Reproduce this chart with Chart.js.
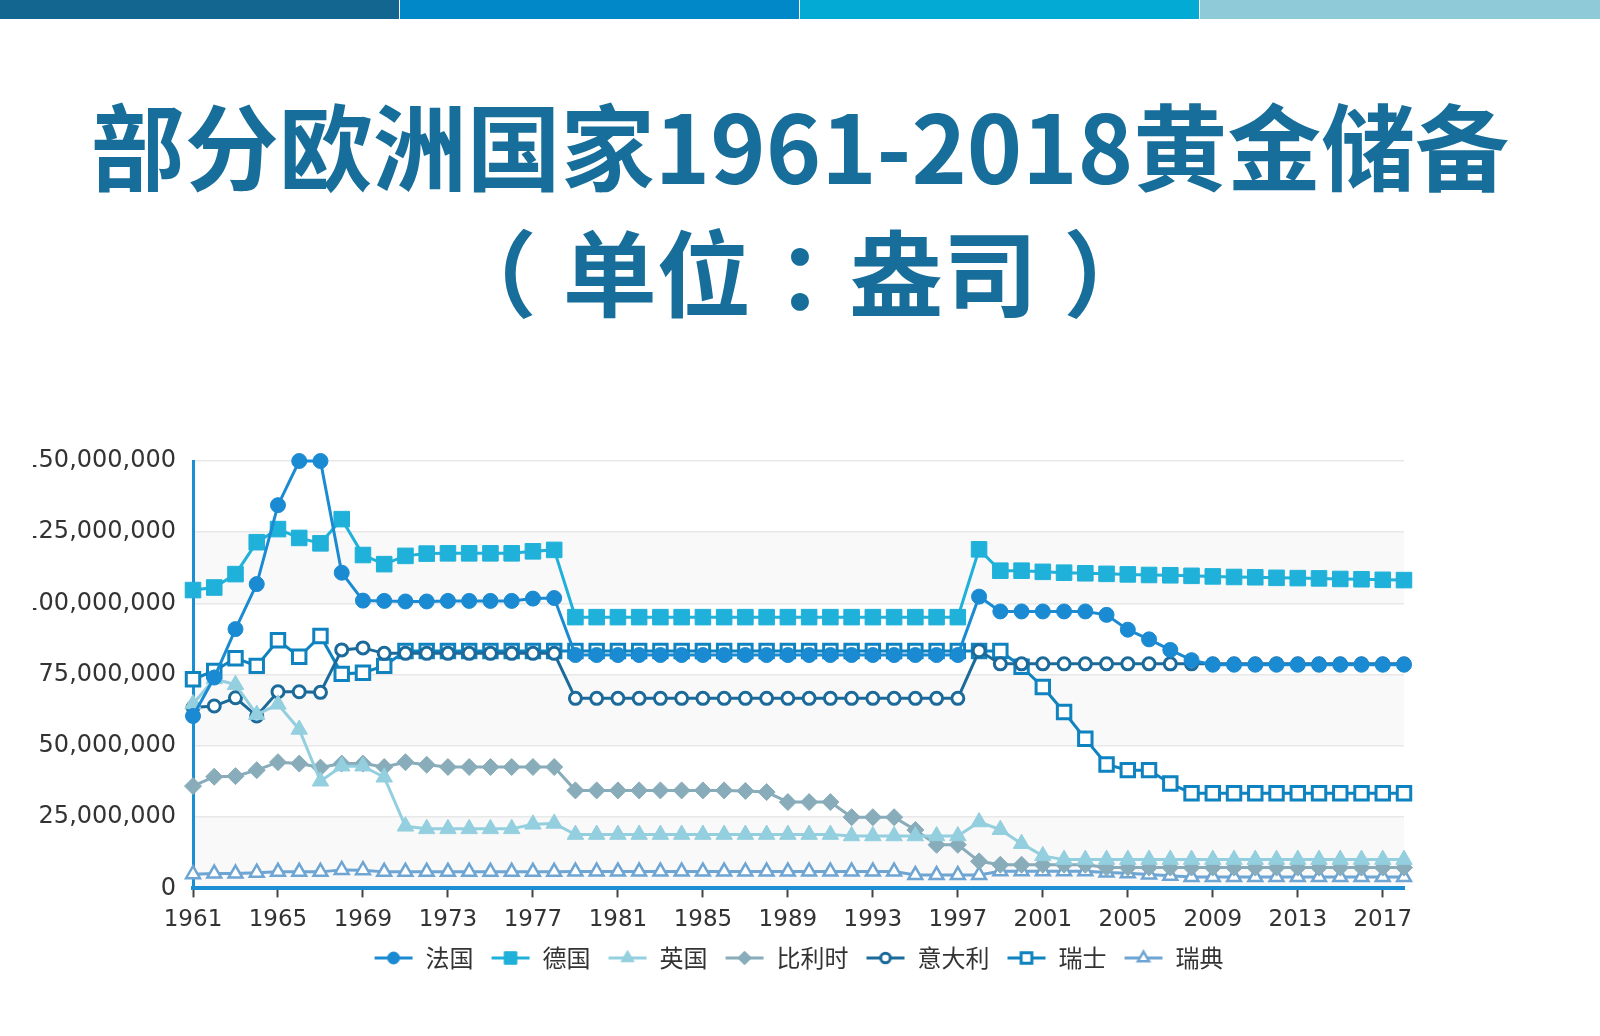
<!DOCTYPE html>
<html lang="zh-CN">
<head>
<meta charset="utf-8">
<title>部分欧洲国家1961-2018黄金储备</title>
<script src="https://cdn.jsdelivr.net/npm/chart.js@4.4.1/dist/chart.umd.min.js"></script>
<style>
  html, body { margin: 0; padding: 0; background: #fff; }
  body { position: relative; width: 1600px; height: 1036px; overflow: hidden; }
  .bar { position: absolute; top: 0; height: 19px; width: 399px; }
  #title { position: absolute; left: 0; top: 80px; width: 1600px; text-align: center;
           font-family: "Noto Sans CJK SC"; font-weight: bold; font-size: 94px;
           line-height: 126px; color: #186e9a; }
  #title .p { display: inline-block; width: 1.05em; text-align: center; font-feature-settings: "halt"; }
  #wrap { position: absolute; left: 33px; top: 0; width: 1567px; height: 1036px; overflow: hidden; }
  #box { position: absolute; left: -33px; top: 0; width: 1600px; height: 1036px; }
</style>
</head>
<body>
<div class="bar" style="left:0;background:#13668f"></div>
<div class="bar" style="left:400px;background:#0188c9"></div>
<div class="bar" style="left:800px;background:#02aad4"></div>
<div class="bar" style="left:1200px;width:400px;background:#8ecad8"></div>
<div id="title"><div>部分欧洲国家1961-2018黄金储备</div><div><span class="p">（</span>单位<span class="p">：</span>盎司<span class="p">）</span></div></div>
<div id="wrap"><div id="box"><canvas id="chart"></canvas></div></div>
<script>
// values in millions of troy ounces
const years = [
  '1961', '1962', '1963', '1964', '1965', '1966', '1967', '1968', '1969', '1970',
  '1971', '1972', '1973', '1974', '1975', '1976', '1977', '1978', '1979', '1980',
  '1981', '1982', '1983', '1984', '1985', '1986', '1987', '1988', '1989', '1990',
  '1991', '1992', '1993', '1994', '1995', '1996', '1997', '1998', '1999', '2000',
  '2001', '2002', '2003', '2004', '2005', '2006', '2007', '2008', '2009', '2010',
  '2011', '2012', '2013', '2014', '2015', '2016', '2017', '2018'
];

const france = [
  60.5, 74.0, 91.0, 106.8, 134.5, 150.0, 150.0, 110.8, 101.0, 100.9,
  100.7, 100.7, 100.9, 100.9, 100.9, 100.9, 101.7, 101.9, 81.9, 81.9,
  81.9, 81.9, 81.9, 81.9, 81.9, 81.9, 81.9, 81.9, 81.9, 81.9,
  81.9, 81.9, 81.9, 81.9, 81.9, 81.9, 81.9, 102.4, 97.2, 97.2,
  97.2, 97.2, 97.2, 96.0, 90.8, 87.4, 83.7, 80.1, 78.5, 78.5,
  78.5, 78.5, 78.5, 78.5, 78.5, 78.5, 78.5, 78.5
];
const germany = [
  104.7, 105.6, 110.3, 121.5, 126.1, 123.0, 121.1, 129.6, 117.0, 113.8,
  116.7, 117.5, 117.6, 117.6, 117.6, 117.6, 118.3, 118.8, 95.2, 95.2,
  95.2, 95.2, 95.2, 95.2, 95.2, 95.2, 95.2, 95.2, 95.2, 95.2,
  95.2, 95.2, 95.2, 95.2, 95.2, 95.2, 95.2, 119.0, 111.5, 111.5,
  111.1, 110.8, 110.6, 110.4, 110.2, 110.0, 109.9, 109.7, 109.5, 109.3,
  109.2, 109.0, 108.9, 108.8, 108.6, 108.5, 108.3, 108.2
];
const uk = [
  64.7, 73.5, 71.5, 61.0, 64.6, 55.8, 37.6, 42.9, 42.9, 39.0,
  21.8, 20.9, 20.9, 20.9, 20.9, 20.9, 22.5, 22.8, 18.9, 18.9,
  18.9, 18.9, 18.9, 18.9, 18.9, 18.9, 18.9, 18.9, 18.9, 18.9,
  18.9, 18.4, 18.4, 18.4, 18.4, 18.4, 18.4, 23.3, 20.6, 15.7,
  11.4, 10.1, 10.1, 10.1, 10.1, 10.1, 10.1, 10.1, 10.1, 10.1,
  10.1, 10.1, 10.1, 10.1, 10.1, 10.1, 10.1, 10.1
];
const belgium = [
  35.9, 39.2, 39.4, 41.5, 44.3, 43.8, 42.4, 43.8, 43.8, 42.6,
  44.3, 43.4, 42.6, 42.6, 42.6, 42.6, 42.6, 42.6, 34.4, 34.4,
  34.4, 34.4, 34.4, 34.4, 34.4, 34.4, 34.2, 33.8, 30.3, 30.3,
  30.3, 25.0, 25.0, 25.0, 20.5, 15.3, 15.3, 9.5, 8.3, 8.3,
  8.3, 8.3, 8.3, 7.3, 7.3, 7.3, 7.3, 7.3, 7.3, 7.3,
  7.3, 7.3, 7.3, 7.3, 7.3, 7.3, 7.3, 7.3
];
const italy = [
  63.5, 64.0, 66.9, 60.5, 69.0, 69.0, 68.8, 83.7, 84.4, 82.5,
  82.5, 82.5, 82.5, 82.5, 82.5, 82.5, 82.5, 82.5, 66.7, 66.7,
  66.7, 66.7, 66.7, 66.7, 66.7, 66.7, 66.7, 66.7, 66.7, 66.7,
  66.7, 66.7, 66.7, 66.7, 66.7, 66.7, 66.7, 83.4, 78.8, 78.8,
  78.8, 78.8, 78.8, 78.8, 78.8, 78.8, 78.8, 78.8, 78.8, 78.8,
  78.8, 78.8, 78.8, 78.8, 78.8, 78.8, 78.8, 78.8
];
const swiss = [
  73.4, 76.3, 80.8, 78.1, 87.1, 81.3, 88.6, 75.3, 75.7, 78.1,
  83.3, 83.3, 83.3, 83.3, 83.3, 83.3, 83.3, 83.3, 83.3, 83.3,
  83.3, 83.3, 83.3, 83.3, 83.3, 83.3, 83.3, 83.3, 83.3, 83.3,
  83.3, 83.3, 83.3, 83.3, 83.3, 83.3, 83.3, 83.3, 83.3, 77.8,
  70.7, 61.9, 52.5, 43.5, 41.5, 41.5, 36.8, 33.4, 33.4, 33.4,
  33.4, 33.4, 33.4, 33.4, 33.4, 33.4, 33.4, 33.4
];
const sweden = [
  5.0, 5.2, 5.2, 5.5, 5.8, 5.8, 5.8, 6.5, 6.4, 5.8,
  5.8, 5.8, 5.8, 5.8, 5.8, 5.8, 5.8, 5.8, 5.9, 5.9,
  5.9, 5.9, 5.9, 5.9, 5.9, 5.9, 5.9, 5.9, 5.9, 5.9,
  5.9, 5.9, 5.9, 5.9, 4.7, 4.7, 4.7, 4.7, 6.0, 6.0,
  6.0, 6.0, 6.0, 5.6, 5.3, 4.9, 4.4, 4.0, 4.0, 4.0,
  4.0, 4.0, 4.0, 4.0, 4.0, 4.0, 4.0, 4.0
];

const series = [
  { label: '法国', data: france, color: '#1a8ad2', fill: '#1a8ad2', style: 'circle', radius: 7.5, pb: 1 },
  { label: '德国', data: germany, color: '#1fb1d9', fill: '#1fb1d9', style: 'rect', radius: 11, pb: 1 },
  { label: '英国', data: uk, color: '#93cfde', fill: '#93cfde', style: 'triangle', radius: 9.5, pb: 1 },
  { label: '比利时', data: belgium, color: '#88acb9', fill: '#88acb9', style: 'rectRot', radius: 8.5, pb: 1 },
  { label: '意大利', data: italy, color: '#1b6a9a', fill: '#ffffff', style: 'circle', radius: 6, pb: 3 },
  { label: '瑞士', data: swiss, color: '#0f82c0', fill: '#ffffff', style: 'rect', radius: 9.5, pb: 3 },
  { label: '瑞典', data: sweden, color: '#6ea5d3', fill: '#ffffff', style: 'triangle', radius: 8, pb: 2.5 }
];

// legend icon: short line with the marker in the middle
const makeIcon = (s) => {
  const c = document.createElement('canvas');
  c.width = 40; c.height = 24;
  const g = c.getContext('2d');
  g.strokeStyle = s.color;
  g.lineWidth = 3;
  g.beginPath(); g.moveTo(1, 12); g.lineTo(39, 12); g.stroke();
  g.fillStyle = s.fill;
  g.lineWidth = s.pb;
  Chart.helpers.drawPoint(g, { pointStyle: s.style, radius: s.radius * 0.8, rotation: 0, borderWidth: s.pb }, 20, 12);
  return c;
};
const icons = series.map(makeIcon);

// alternating grey bands between y ticks
const bands = {
  id: 'bands',
  beforeDraw(chart) {
    const { ctx, chartArea, scales: { y } } = chart;
    ctx.save();
    ctx.fillStyle = '#f9f9f9';
    y.ticks.forEach((t, i) => {
      if (i % 2 === 0 && i < y.ticks.length - 1) {
        const top = y.getPixelForValue(y.ticks[i + 1].value);
        const bottom = y.getPixelForValue(t.value);
        ctx.fillRect(chartArea.left, top, chartArea.right - chartArea.left, bottom - top);
      }
    });
    ctx.restore();
  }
};

// pull the legend a bit closer to the year labels
const legendShift = {
  id: 'legendShift',
  afterLayout(chart) {
    if (chart.legend) {
      chart.legend.top -= 14;
      chart.legend.bottom -= 14;
    }
  }
};

Chart.defaults.font.family = 'DejaVu Sans';

var chart = new Chart(document.getElementById('chart'), {
  type: 'line',
  data: {
    labels: years,
    datasets: series.map(s => ({
      label: s.label,
      data: s.data,
      borderColor: s.color,
      backgroundColor: s.color,
      borderWidth: 3,
      tension: 0,
      clip: false,
      pointStyle: s.style,
      pointRadius: s.radius,
      pointBackgroundColor: s.fill,
      pointBorderColor: s.color,
      pointBorderWidth: s.pb
    }))
  },
  options: {
    responsive: true,
    maintainAspectRatio: false,
    animation: false,
    layout: { padding: { left: 24, right: 196, top: 461, bottom: 42 } },
    plugins: {
      legend: {
        position: 'bottom',
        fullSize: false,
        labels: {
          usePointStyle: true,
          pointStyleWidth: 40,
          padding: 17,
          color: '#333',
          font: { family: 'Noto Sans CJK SC', size: 24 },
          generateLabels: (c) => Chart.defaults.plugins.legend.labels.generateLabels(c)
            .map((l, i) => Object.assign(l, { pointStyle: icons[i] }))
        }
      },
      tooltip: { enabled: false }
    },
    scales: {
      x: {
        grid: {
          drawOnChartArea: false,
          drawTicks: true,
          tickLength: 9,
          tickWidth: 2,
          tickColor: (c) => c.index % 4 === 0 ? '#444' : 'rgba(0,0,0,0)'
        },
        border: { color: '#1a8fd3', width: 4 },
        ticks: {
          autoSkip: false,
          maxRotation: 0,
          padding: 9,
          color: '#333',
          font: { size: 23 },
          callback: function (v, i) { return i % 4 === 0 ? this.getLabelForValue(v) : ''; }
        }
      },
      y: {
        min: 0,
        max: 150,
        afterFit: (s) => { s.width = 169; },
        grid: { color: '#e8e8e8', lineWidth: 1.5, drawTicks: false },
        border: { color: '#1a8fd3', width: 3 },
        ticks: {
          stepSize: 25,
          padding: 17,
          color: '#333',
          font: { size: 24 },
          callback: (v) => (v * 1000000).toLocaleString('en-US')
        }
      }
    }
  },
  plugins: [bands, legendShift]
});
</script>
</body>
</html>
